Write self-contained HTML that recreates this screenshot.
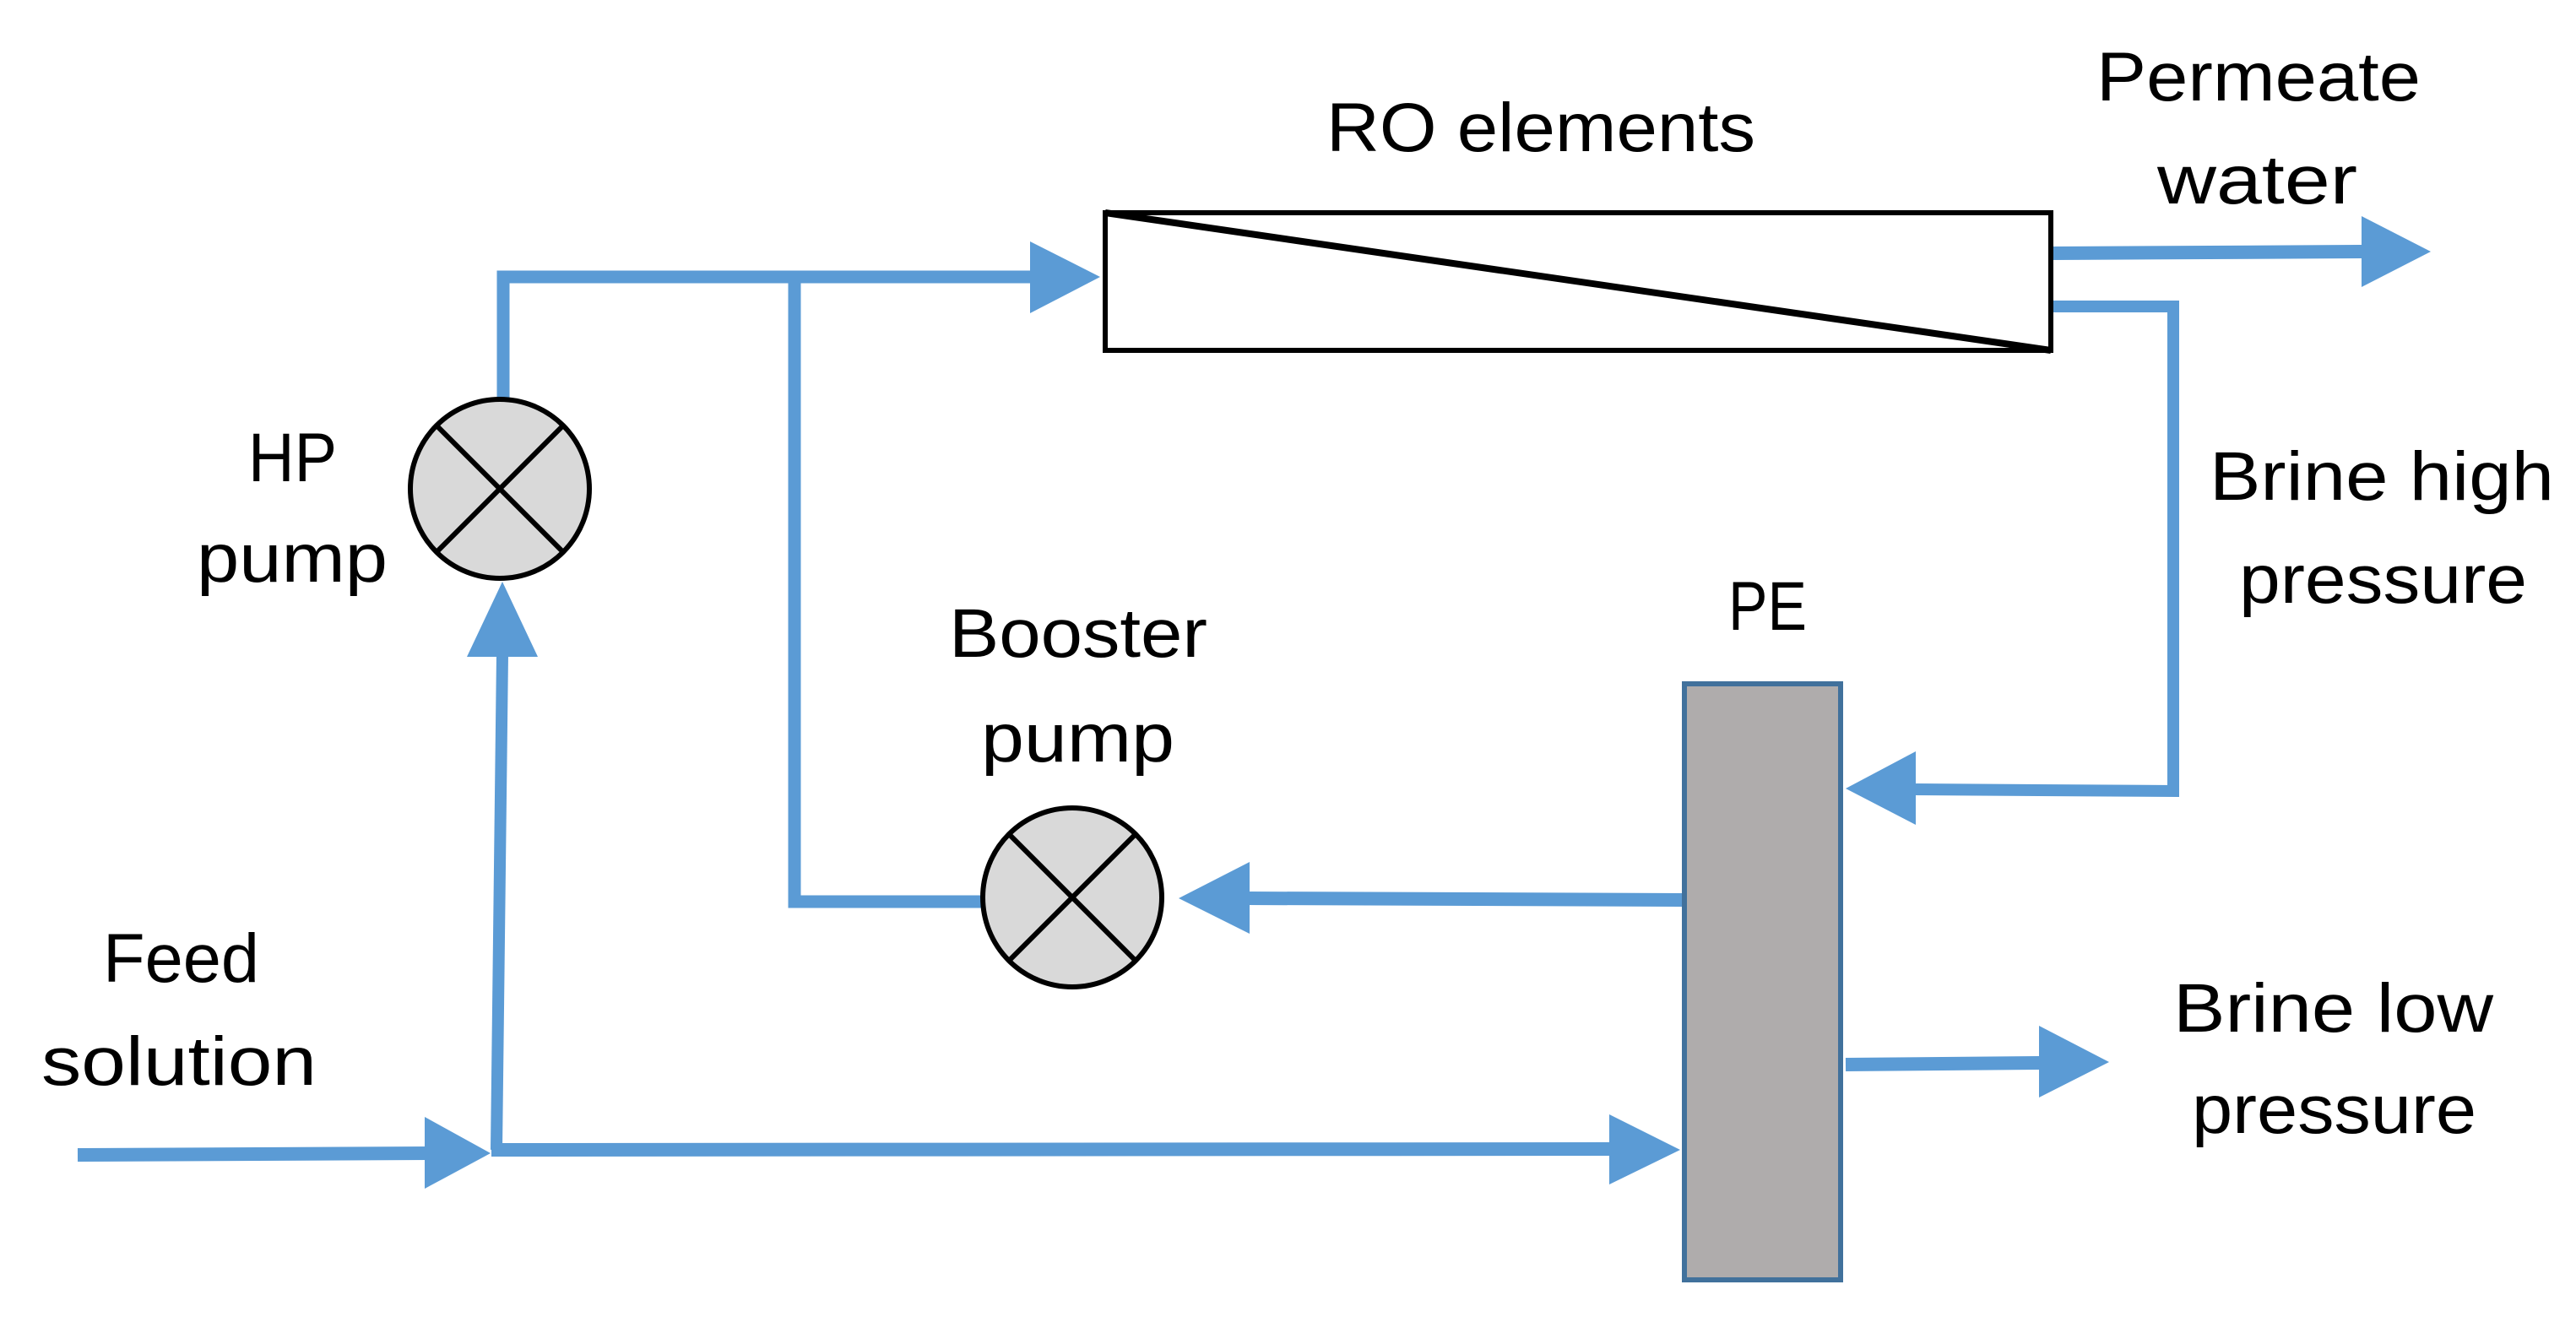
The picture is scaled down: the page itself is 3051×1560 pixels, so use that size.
<!DOCTYPE html>
<html><head><meta charset="utf-8"><style>html,body{margin:0;padding:0;background:#fff}svg{display:block}</style></head>
<body>
<svg width="3051" height="1560" viewBox="0 0 3051 1560" xmlns="http://www.w3.org/2000/svg">
<g fill="none" stroke="#5b9bd5" stroke-width="16" stroke-linecap="butt">
  <polyline points="596,485 596,328 1225,328" stroke-width="15"/>
  <polyline points="941,328 941,1068 1166,1068" stroke-width="15"/>
  <line x1="1476" y1="1064" x2="1994" y2="1066"/>
  <line x1="2430" y1="300" x2="2800" y2="298"/>
  <polyline points="2430,363 2574,363 2574,937 2265,935" stroke-width="14"/>
  <line x1="2186" y1="1261" x2="2420" y2="1259"/>
  <line x1="92" y1="1368" x2="510" y2="1366"/>
  <line x1="582" y1="1362" x2="1910" y2="1361"/>
  <line x1="588" y1="1362" x2="595" y2="775" stroke-width="14"/>
</g>
<g fill="#5b9bd5">
  <polygon points="1220,286 1303,328 1220,371"/>
  <polygon points="2797,256 2879,298 2797,340"/>
  <polygon points="2269,890 2186,934 2269,977"/>
  <polygon points="1480,1021 1396,1064 1480,1106"/>
  <polygon points="2415,1215 2498,1258 2415,1300"/>
  <polygon points="503,1323 581,1366 503,1408"/>
  <polygon points="1906,1320 1990,1362 1906,1403"/>
  <polygon points="553,778 595,689 637,778"/>
</g>
<rect x="1309" y="252" width="1120" height="163" fill="#fff" stroke="#000" stroke-width="6"/>
<line x1="1309" y1="252" x2="2429" y2="415" stroke="#000" stroke-width="8"/>
<rect x="1995" y="810" width="185" height="706" fill="#afacac" stroke="#41719c" stroke-width="6"/>
<g stroke="#000" stroke-width="6">
  <circle cx="592" cy="579" r="106" fill="#d9d9d9"/>
  <line x1="517" y1="504" x2="667" y2="654"/>
  <line x1="667" y1="504" x2="517" y2="654"/>
  <circle cx="1270" cy="1063" r="106" fill="#d9d9d9"/>
  <line x1="1195" y1="988" x2="1345" y2="1138"/>
  <line x1="1345" y1="988" x2="1195" y2="1138"/>
</g>
<g font-family="'Liberation Sans', sans-serif" font-size="82" fill="#000">
  <text x="1571" y="179" textLength="508" lengthAdjust="spacingAndGlyphs">RO elements</text>
  <text x="2483" y="119" textLength="384" lengthAdjust="spacingAndGlyphs">Permeate</text>
  <text x="2555" y="241" textLength="237" lengthAdjust="spacingAndGlyphs">water</text>
  <text x="2617" y="592" textLength="408" lengthAdjust="spacingAndGlyphs">Brine high</text>
  <text x="2652" y="714" textLength="341" lengthAdjust="spacingAndGlyphs">pressure</text>
  <text x="2047" y="746" textLength="93" lengthAdjust="spacingAndGlyphs">PE</text>
  <text x="294" y="570" textLength="105" lengthAdjust="spacingAndGlyphs">HP</text>
  <text x="233" y="689" textLength="226" lengthAdjust="spacingAndGlyphs">pump</text>
  <text x="1124" y="778" textLength="306" lengthAdjust="spacingAndGlyphs">Booster</text>
  <text x="1162" y="902" textLength="229" lengthAdjust="spacingAndGlyphs">pump</text>
  <text x="122" y="1163" textLength="185" lengthAdjust="spacingAndGlyphs">Feed</text>
  <text x="49" y="1285" textLength="326" lengthAdjust="spacingAndGlyphs">solution</text>
  <text x="2574" y="1222" textLength="379" lengthAdjust="spacingAndGlyphs">Brine low</text>
  <text x="2596" y="1342" textLength="337" lengthAdjust="spacingAndGlyphs">pressure</text>
</g>
</svg>
</body></html>
